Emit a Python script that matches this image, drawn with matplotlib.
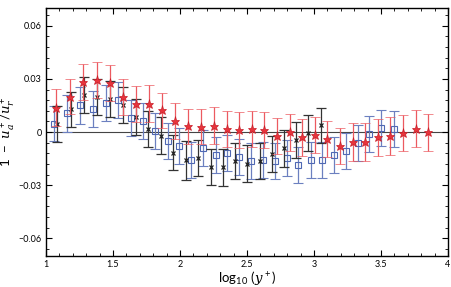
import numpy as np
import matplotlib
matplotlib.use("Agg")
import matplotlib.pyplot as plt
from matplotlib.ticker import MultipleLocator

plt.rcParams['font.family'] = ['Lato', 'DejaVu Sans']
plt.rcParams['mathtext.fontset'] = 'custom'
plt.rcParams['mathtext.rm'] = 'Lato'
plt.rcParams['mathtext.it'] = 'DejaVu Serif:italic'

# red stars
red_x = [1.072, 1.181, 1.278, 1.381, 1.478, 1.577, 1.674, 1.771, 1.868, 1.963,
         2.062, 2.159, 2.256, 2.347, 2.440, 2.535, 2.627, 2.724, 2.819, 2.910,
         3.007, 3.099, 3.194, 3.289, 3.381, 3.475, 3.570, 3.662, 3.759, 3.853]
red_y = [0.0138, 0.0200, 0.0283, 0.0294, 0.0279, 0.0200, 0.0160, 0.0160, 0.0123, 0.0062,
         0.0032, 0.0030, 0.0036, 0.0017, 0.0013, 0.0017, 0.0011, -0.0021, -0.0002, -0.0030,
         -0.0017, -0.0041, -0.0078, -0.0057, -0.0057, -0.0030, -0.0023, -0.0007, 0.0019, -0.0002]
red_err = [0.0103, 0.0100, 0.0101, 0.0102, 0.0102, 0.0102, 0.0102, 0.0104, 0.0100, 0.0100,
           0.0100, 0.0099, 0.0104, 0.0102, 0.0102, 0.0102, 0.0102, 0.0102, 0.0105, 0.0104,
           0.0102, 0.0102, 0.0100, 0.0106, 0.0106, 0.0105, 0.0106, 0.0102, 0.0104, 0.0104]

# black crosses
blk_x = [1.082, 1.187, 1.284, 1.381, 1.476, 1.577, 1.672, 1.761, 1.856, 1.950,
         2.045, 2.137, 2.229, 2.321, 2.410, 2.502, 2.595, 2.687, 2.778, 2.868,
         2.957, 3.050]
blk_y = [0.0044, 0.0128, 0.0208, 0.0196, 0.0185, 0.0155, 0.0087, 0.0015, -0.0020, -0.0117,
         -0.0160, -0.0149, -0.0198, -0.0200, -0.0162, -0.0178, -0.0165, -0.0123, -0.0093, -0.0044,
         -0.0005, 0.0037]
blk_err = [0.0102, 0.0100, 0.0102, 0.0102, 0.0102, 0.0102, 0.0102, 0.0102, 0.0102, 0.0100,
           0.0110, 0.0102, 0.0100, 0.0102, 0.0102, 0.0102, 0.0102, 0.0102, 0.0102, 0.0102,
           0.0100, 0.0098]

# blue squares
blu_x = [1.060, 1.159, 1.256, 1.354, 1.446, 1.540, 1.637, 1.726, 1.816, 1.907,
         1.995, 2.084, 2.174, 2.265, 2.351, 2.442, 2.531, 2.621, 2.709, 2.796,
         2.884, 2.974, 3.062, 3.149, 3.237, 3.326, 3.413, 3.502, 3.594]
blu_y = [0.0048, 0.0105, 0.0150, 0.0132, 0.0166, 0.0180, 0.0079, 0.0061, 0.0005, -0.0049,
         -0.0078, -0.0157, -0.0092, -0.0132, -0.0118, -0.0143, -0.0166, -0.0158, -0.0163, -0.0148,
         -0.0188, -0.0156, -0.0158, -0.0130, -0.0105, -0.0063, -0.0010, 0.0023, 0.0017]
blu_err = [0.0100, 0.0103, 0.0102, 0.0102, 0.0102, 0.0102, 0.0102, 0.0102, 0.0102, 0.0102,
           0.0102, 0.0102, 0.0102, 0.0102, 0.0102, 0.0102, 0.0102, 0.0102, 0.0102, 0.0102,
           0.0102, 0.0102, 0.0102, 0.0102, 0.0102, 0.0102, 0.0102, 0.0102, 0.0102]

xticks = [1, 1.5, 2, 2.5, 3, 3.5, 4]
xticklabels = ['1', '1.5', '2', '2.5', '3', '3.5', '4']
yticks = [-0.06, -0.03, 0, 0.03, 0.06]
yticklabels = ['\u22120.06', '\u22120.03', '0', '0.03', '0.06']

fig = plt.figure(figsize=(4.52, 2.87), dpi=100)
ax = fig.add_axes([0.1018, 0.108, 0.8894, 0.864])

ax.axhline(0, color='#444444', lw=0.8, zorder=1)

ax.errorbar(blu_x, blu_y, yerr=blu_err, fmt='s', ms=5, mfc='none', mec='#4f68b3', mew=0.8,
            ecolor='#6c80c0', elinewidth=0.9, capsize=3.5, capthick=0.9, zorder=2)
ax.errorbar(blk_x, blk_y, yerr=blk_err, fmt='x', ms=3.5, color='#222222', mew=0.9,
            ecolor='#333333', elinewidth=0.9, capsize=3.5, capthick=0.9, zorder=3)
ax.errorbar(red_x, red_y, yerr=red_err, fmt='*', ms=6.5, mfc='#e8343c', mec='#c81e28', mew=0.5,
            ecolor='#ec5a60', elinewidth=0.9, capsize=3.5, capthick=0.9, zorder=4)

ax.set_xlim(1, 4)
ax.set_ylim(-0.07, 0.07)
ax.set_xticks(xticks)
ax.set_xticklabels(xticklabels)
ax.set_yticks(yticks)
ax.set_yticklabels(yticklabels)
ax.xaxis.set_minor_locator(MultipleLocator(0.1))
ax.yaxis.set_minor_locator(MultipleLocator(0.006))
ax.tick_params(which='both', direction='in', top=True, right=True, labelsize=6.5, pad=3)
ax.tick_params(which='major', length=4, width=0.8)
ax.tick_params(which='minor', length=2, width=0.6)
for s in ax.spines.values():
    s.set_linewidth(1.0)

ax.set_xlabel(r'$\mathrm{log}_{10}\ (y^+)$', fontsize=9.5, labelpad=0)
ax.set_ylabel(r'$1\ -\ u_a^+/u_r^+$', fontsize=9.5, labelpad=1)

fig.savefig('out.png', dpi=100)
